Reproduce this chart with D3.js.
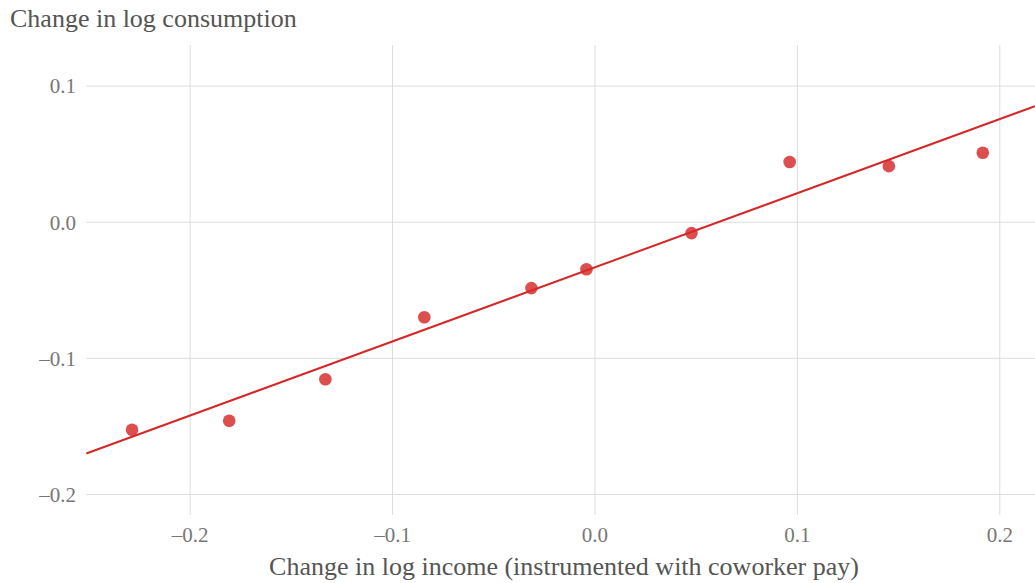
<!DOCTYPE html>
<html>
<head>
<meta charset="utf-8">
<script src="https://cdn.jsdelivr.net/npm/d3@7"></script>
<style>
  body { margin: 0; background: #fff; }
  svg { display: block; font-family: "Liberation Serif", "DejaVu Serif", serif; }
</style>
</head>
<body>
<div id="chart"></div>
<script>
// binned scatter data
var incomeChange = [-0.2287, -0.1807, -0.1332, -0.0843, -0.0314, -0.0042, 0.0477, 0.0962, 0.1452, 0.1916];
var consumptionChange = [-0.1525, -0.1459, -0.1154, -0.0698, -0.0484, -0.0345, -0.0080, 0.0442, 0.0412, 0.0510];
var fitIntercept = -0.0331;
var fitSlope = 0.5445;
var xTicks = [-0.2, -0.1, 0.0, 0.1, 0.2];
var yTicks = [-0.2, -0.1, 0.0, 0.1];

var svgWidth = 1035;
var svgHeight = 583;
var plotLeft = 86.3;
var plotRight = 1035;
var plotTop = 45;
var plotBottom = 515;

var xScale = d3.scaleLinear().domain([-0.2513, 0.2174]).range([plotLeft, plotRight]);
var yScale = d3.scaleLinear().domain([-0.2151, 0.1302]).range([plotBottom, plotTop]);

var fmt = d => d3.format(".1f")(d).replace("-", "\u2013").replace("\u2212", "\u2013");

var svg = d3.select("#chart")
    .append("svg")
    .attr("width", svgWidth)
    .attr("height", svgHeight);

// grid
svg.append("g").selectAll("line")
    .data(xTicks)
    .enter()
    .append("line")
    .attr("x1", d => xScale(d))
    .attr("x2", d => xScale(d))
    .attr("y1", plotTop)
    .attr("y2", plotBottom)
    .attr("stroke", "#dddddd")
    .attr("stroke-width", 1);

svg.append("g").selectAll("line")
    .data(yTicks)
    .enter()
    .append("line")
    .attr("x1", plotLeft)
    .attr("x2", plotRight)
    .attr("y1", d => yScale(d))
    .attr("y2", d => yScale(d))
    .attr("stroke", "#dddddd")
    .attr("stroke-width", 1);

// tick labels
svg.append("g").selectAll("text")
    .data(xTicks)
    .enter()
    .append("text")
    .attr("x", d => xScale(d))
    .attr("y", 542)
    .attr("text-anchor", "middle")
    .attr("font-size", "21px")
    .attr("fill", "#777777")
    .text(fmt);

svg.append("g").selectAll("text")
    .data(yTicks)
    .enter()
    .append("text")
    .attr("x", 76)
    .attr("y", d => yScale(d))
    .attr("dy", "0.35em")
    .attr("text-anchor", "end")
    .attr("font-size", "21px")
    .attr("fill", "#777777")
    .text(fmt);

// fit line
var xDom = xScale.domain();
svg.append("line")
    .attr("x1", xScale(xDom[0]))
    .attr("y1", yScale(fitIntercept + fitSlope * xDom[0]))
    .attr("x2", xScale(xDom[1]))
    .attr("y2", yScale(fitIntercept + fitSlope * xDom[1]))
    .attr("stroke", "#d62728")
    .attr("stroke-width", 2);

// points
svg.append("g").selectAll("circle")
    .data(incomeChange)
    .enter()
    .append("circle")
    .attr("cx", d => xScale(d))
    .attr("cy", (d, i) => yScale(consumptionChange[i]))
    .attr("r", 6.3)
    .attr("fill", "#d62728")
    .attr("opacity", 0.82);

// titles
svg.append("text")
    .attr("x", 10)
    .attr("y", 27)
    .attr("font-size", "26px")
    .attr("fill", "#555555")
    .text("Change in log consumption");

svg.append("text")
    .attr("x", 564)
    .attr("y", 575)
    .attr("text-anchor", "middle")
    .attr("font-size", "26px")
    .attr("fill", "#555555")
    .text("Change in log income (instrumented with coworker pay)");
</script>
</body>
</html>
